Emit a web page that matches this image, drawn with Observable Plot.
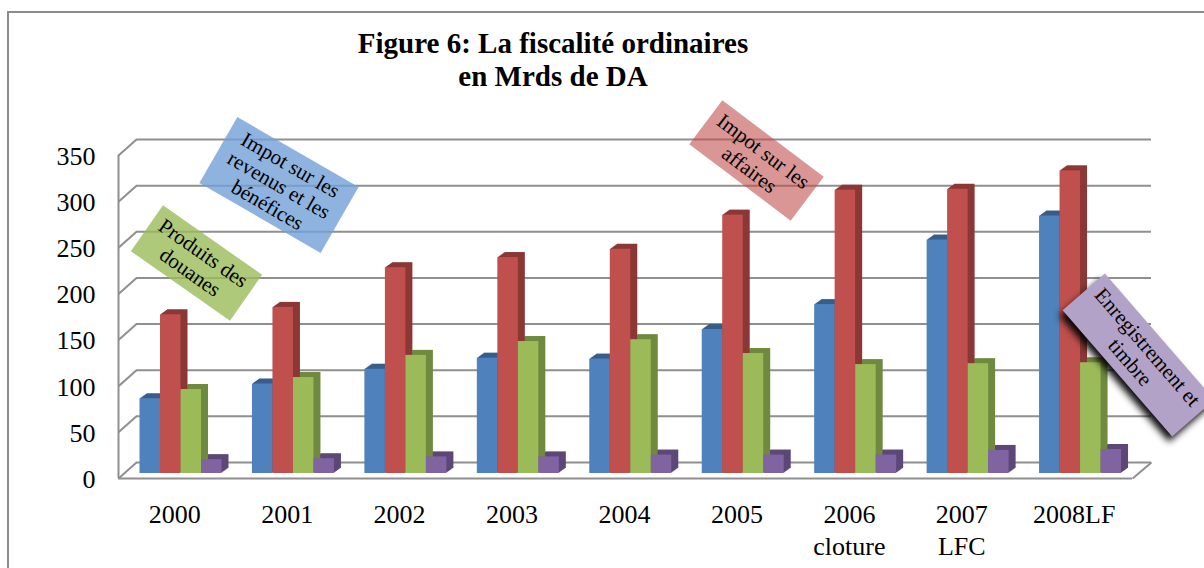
<!DOCTYPE html>
<html><head><meta charset="utf-8">
<script src="https://cdn.jsdelivr.net/npm/d3@7"></script>
<script src="https://cdn.jsdelivr.net/npm/@observablehq/plot@0.6"></script>
<style>
html,body{margin:0;padding:0;background:#fff;}
#wrap{position:relative;width:1204px;height:568px;overflow:hidden;font-family:"Liberation Serif","Times New Roman",serif;background:#fff;}
#chart{position:absolute;left:0;top:0;}
#border{position:absolute;left:7px;top:11px;width:1230px;height:600px;border:2px solid #8c8c8c;box-sizing:border-box;pointer-events:none;}
#title{position:absolute;left:253px;width:600px;top:27px;text-align:center;font-weight:bold;font-size:29px;line-height:33px;color:#000;white-space:nowrap;}
.lbl{position:absolute;display:flex;align-items:center;justify-content:center;text-align:center;font-size:21px;line-height:23px;color:#000;white-space:pre;box-sizing:border-box;}
</style></head>
<body><div id="wrap">
<div id="chart"></div>
<div id="border"></div>
<div id="title">Figure 6: La fiscalité ordinaires<br>en Mrds de DA</div>
</div>
<script>
// ---- data ----
const categories = ["2000", "2001", "2002", "2003", "2004", "2005", "2006\ncloture", "2007\nLFC", "2008LF"];
const seriesNames = ["Impot sur les revenus et les bénéfices", "Impot sur les affaires", "Produits des douanes", "Enregistrement et timbre"];
const seriesLabelLines = ["Impot sur les\nrevenus et les\nbénéfices", "Impot sur les\naffaires", "Produits des\ndouanes", "Enregistrement et\ntimbre"];
const revenus = [81, 97, 113, 125, 124, 156, 183, 253, 279];
const affaires = [172, 180, 223, 234, 243, 280, 307, 308, 328];
const douanes = [91, 104, 128, 143, 145, 130, 118, 119, 120];
const enregistrement = [15, 16, 18, 18, 20, 20, 20, 25, 26];
const yTicks = [0, 50, 100, 150, 200, 250, 300, 350];

// ---- styles ----
const seriesColors = ["#4F81BD", "#C0504D", "#9BBB59", "#8064A2"];
const sideColors = ["#385D8A", "#8A3735", "#6F893E", "#5C4776"];
const gridColor = "#8f8f8f";

const W = 1204, H = 568, mL = 118, mR = 74, mT = 150, mB = 95;
const B = (W - mL - mR) / categories.length;   // px per category
const K = (H - mT - mB) / 350;                   // px per unit
const depthX = 18, backDy = 11, frontDy = 5;

const values = [revenus, affaires, douanes, enregistrement];
const rows = [];
values.forEach((arr, s) => arr.forEach((v, i) => rows.push({i, s, v, cat: categories[i], series: seriesNames[s]})));
const barX1 = r => r.i + (21.5 + r.s * 20.5) / B;
const barX2 = r => r.i + (21.5 + (r.s + 1) * 20.5) / B;

const marks = [];
// back wall gridlines
marks.push(Plot.ruleY(yTicks, {y: d => d, x1: depthX / B, x2: 9 + 21 / B, dy: -backDy, stroke: gridColor, strokeWidth: 2}));
// left wall diagonals
marks.push(Plot.link(yTicks, {x1: 0, x2: depthX / B, y1: d => d - frontDy / K, y2: d => d + backDy / K, stroke: gridColor, strokeWidth: 2}));
// front vertical axis
marks.push(Plot.ruleX([0], {x: d => d, y1: -frontDy / K, y2: 350 - frontDy / K, stroke: gridColor, strokeWidth: 2}));
// floor front edge and right diagonal
marks.push(Plot.ruleY([0], {y: d => d - frontDy / K, x1: 0, x2: 9 + 2 / B, stroke: gridColor, strokeWidth: 2}));
marks.push(Plot.link([0], {x1: 9 + 2 / B, x2: 9 + 21 / B, y1: -frontDy / K, y2: backDy / K, stroke: gridColor, strokeWidth: 2}));

// 3D side/top faces (layered extrusion)
const layers = 7;
for (let k = 1; k <= layers; k++) {
  for (let s = 0; s < 4; s++) {
    marks.push(Plot.rect(rows.filter(r => r.s === s), {
      x1: barX1, x2: barX2, y1: 0, y2: r => r.v,
      fill: sideColors[s], dx: k, dy: -k * 5 / 7
    }));
  }
}
// front faces
for (let s = 0; s < 4; s++) {
  marks.push(Plot.rect(rows.filter(r => r.s === s), {
    x1: barX1, x2: barX2, y1: 0, y2: r => r.v, fill: seriesColors[s],
    title: r => `${r.series} ${r.cat.replace("\n", " ")}: ${r.v}`
  }));
}
// y tick labels
marks.push(Plot.text(yTicks, {y: d => d, text: d => String(d), frameAnchor: "left", textAnchor: "end", dx: -23, dy: 6, fontSize: 26, fill: "#000"}));
// x tick labels
marks.push(Plot.text(categories, {x: (d, i) => i + 0.5, y: 0, text: d => d, lineAnchor: "top", dy: 27, fontSize: 26, lineHeight: 1.23, fill: "#000"}));

const chart = Plot.plot({
  width: W, height: H,
  marginLeft: mL, marginRight: mR, marginTop: mT, marginBottom: mB,
  x: {type: "linear", domain: [0, categories.length], axis: null},
  y: {domain: [0, 350], axis: null},
  style: {fontFamily: '"Liberation Serif","Times New Roman",serif', background: "#fff", color: "#000"},
  marks
});
document.getElementById("chart").appendChild(chart);

// series labels (rotated boxes)
const boxes = [
  {cx: 279, cy: 185, w: 140, h: 76, rot: 30, bg: "rgba(115,160,215,0.8)", shadow: "none"},
  {cx: 756, cy: 160, w: 127, h: 55, rot: 37, bg: "rgba(192,80,77,0.6)", shadow: "none"},
  {cx: 196, cy: 263, w: 121, h: 56, rot: 35, bg: "rgba(155,187,89,0.8)", shadow: "none"},
  {cx: 1138, cy: 355, w: 167, h: 56, rot: 49, bg: "#B3A2C7", shadow: "2px 6px 7px rgba(0,0,0,0.95)"}
];
const wrap = document.getElementById("wrap");
boxes.forEach((b, s) => {
  const d = document.createElement("div");
  d.className = "lbl";
  d.textContent = seriesLabelLines[s];
  Object.assign(d.style, {
    left: (b.cx - b.w / 2) + "px", top: (b.cy - b.h / 2) + "px",
    width: b.w + "px", height: b.h + "px",
    background: b.bg, boxShadow: b.shadow,
    transform: `rotate(${b.rot}deg)`
  });
  wrap.appendChild(d);
});
</script></body></html>
